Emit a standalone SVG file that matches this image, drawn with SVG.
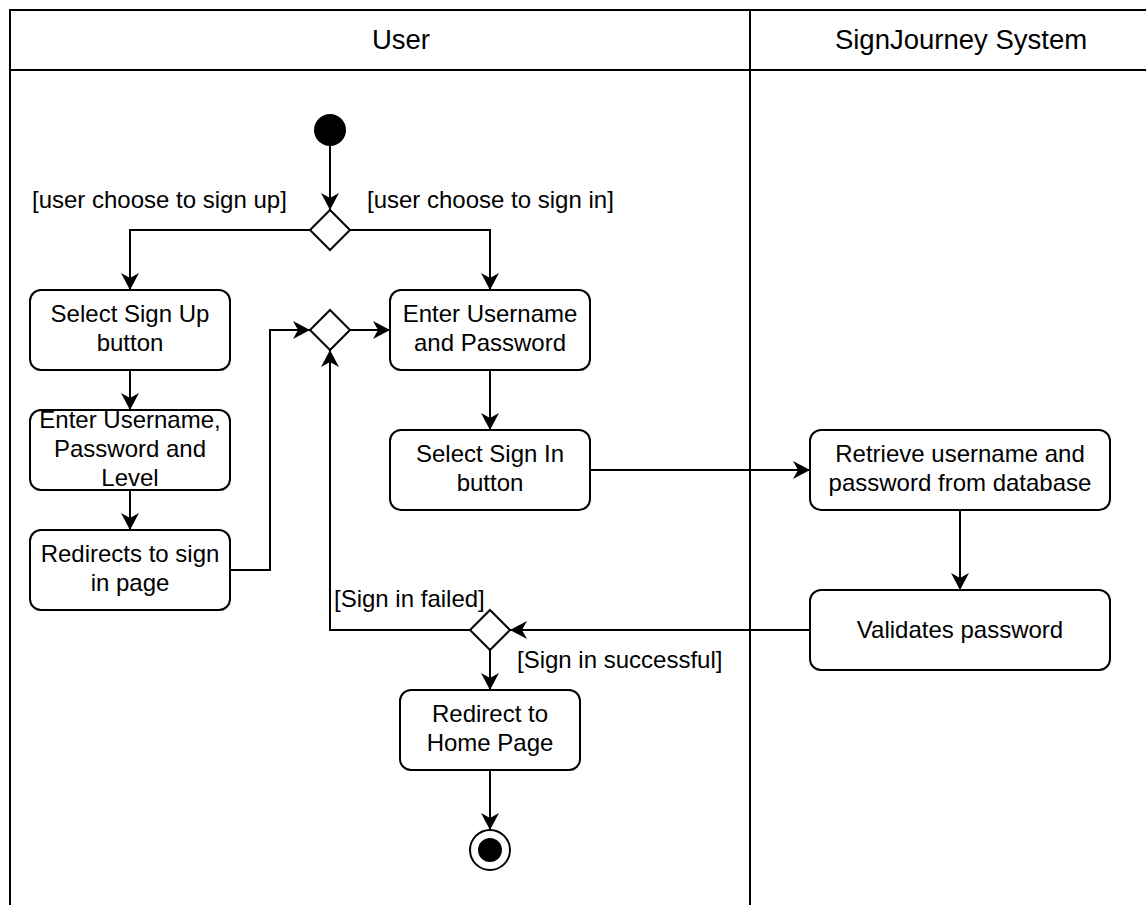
<svg xmlns="http://www.w3.org/2000/svg" width="1146" height="905" viewBox="0 0 1146 905">
  <style>
    .lane { fill: none; stroke: #000; stroke-width: 2; }
    .node rect { fill: #fff; stroke: #000; stroke-width: 2; }
    .dec { fill: #fff; stroke: #000; stroke-width: 2; }
    .edge { fill: none; stroke: #000; stroke-width: 2; marker-end: url(#arrow); }
    text { font-family: "Liberation Sans", Arial, Helvetica, sans-serif; font-size: 24px; fill: #000; }
    .c { text-anchor: middle; }
    .hdr { font-size: 27.5px; }
  </style>
  <defs>
    <!-- classic open-notched arrowhead -->
    <marker id="arrow" markerUnits="userSpaceOnUse" markerWidth="20" markerHeight="20" refX="17" refY="9" orient="auto">
      <path d="M0,0 L17,9 L0,18 L5,9 Z" fill="#000"/>
    </marker>
  </defs>

  <rect width="1146" height="905" fill="#fff"/>

  <!-- swimlanes -->
  <g id="lanes">
    <rect class="lane" x="10" y="10" width="1160" height="920"/>
    <line class="lane" x1="10" y1="70" x2="1146" y2="70"/>
    <line class="lane" x1="750" y1="10" x2="750" y2="905"/>
    <text class="c hdr" x="401" y="49">User</text>
    <text class="c hdr" x="961" y="49">SignJourney System</text>
  </g>

  <!-- connectors -->
  <g id="connectors">
    <path class="edge" d="M330,146 L330,210"/>
    <path class="edge" d="M310,230 L130,230 L130,290"/>
    <path class="edge" d="M350,230 L490,230 L490,290"/>
    <path class="edge" d="M130,370 L130,410"/>
    <path class="edge" d="M130,490 L130,530"/>
    <path class="edge" d="M230,570 L270,570 L270,330 L310,330"/>
    <path class="edge" d="M350,330 L390,330"/>
    <path class="edge" d="M490,370 L490,430"/>
    <path class="edge" d="M590,470 L810,470"/>
    <path class="edge" d="M960,510 L960,590"/>
    <path class="edge" d="M810,630 L510,630"/>
    <path class="edge" d="M470,630 L330,630 L330,350"/>
    <path class="edge" d="M490,650 L490,690"/>
    <path class="edge" d="M490,770 L490,830"/>
    <text x="32" y="208">[user choose to sign up]</text>
    <text x="367" y="208">[user choose to sign in]</text>
    <text x="334" y="607">[Sign in failed]</text>
    <text x="517" y="668">[Sign in successful]</text>
  </g>

  <!-- nodes -->
  <g id="start">
    <circle cx="330" cy="130" r="16" fill="#000"/>
  </g>
  <g id="choice">
    <path class="dec" d="M330,210 L350,230 L330,250 L310,230 Z"/>
  </g>
  <g id="merge">
    <path class="dec" d="M330,310 L350,330 L330,350 L310,330 Z"/>
  </g>
  <g id="signup" class="node">
    <rect x="30" y="290" width="200" height="80" rx="11"/>
    <text class="c" x="130" y="322">Select Sign Up</text>
    <text class="c" x="130" y="351">button</text>
  </g>
  <g id="enter-details" class="node">
    <rect x="30" y="410" width="200" height="80" rx="11"/>
    <text class="c" x="130" y="428">Enter Username,</text>
    <text class="c" x="130" y="457">Password and</text>
    <text class="c" x="130" y="486">Level</text>
  </g>
  <g id="redirect-signin" class="node">
    <rect x="30" y="530" width="200" height="80" rx="11"/>
    <text class="c" x="130" y="562">Redirects to sign</text>
    <text class="c" x="130" y="591">in page</text>
  </g>
  <g id="enter-credentials" class="node">
    <rect x="390" y="290" width="200" height="80" rx="11"/>
    <text class="c" x="490" y="322">Enter Username</text>
    <text class="c" x="490" y="351">and Password</text>
  </g>
  <g id="signin" class="node">
    <rect x="390" y="430" width="200" height="80" rx="11"/>
    <text class="c" x="490" y="462">Select Sign In</text>
    <text class="c" x="490" y="491">button</text>
  </g>
  <g id="retrieve" class="node">
    <rect x="810" y="430" width="300" height="80" rx="11"/>
    <text class="c" x="960" y="462">Retrieve username and</text>
    <text class="c" x="960" y="491">password from database</text>
  </g>
  <g id="validate" class="node">
    <rect x="810" y="590" width="300" height="80" rx="11"/>
    <text class="c" x="960" y="638">Validates password</text>
  </g>
  <g id="check">
    <path class="dec" d="M490,610 L510,630 L490,650 L470,630 Z"/>
  </g>
  <g id="home" class="node">
    <rect x="400" y="690" width="180" height="80" rx="11"/>
    <text class="c" x="490" y="722">Redirect to</text>
    <text class="c" x="490" y="751">Home Page</text>
  </g>
  <g id="end">
    <circle cx="490" cy="850" r="20" fill="#fff" stroke="#000" stroke-width="2"/>
    <circle cx="490" cy="850" r="12" fill="#000"/>
  </g>
</svg>
